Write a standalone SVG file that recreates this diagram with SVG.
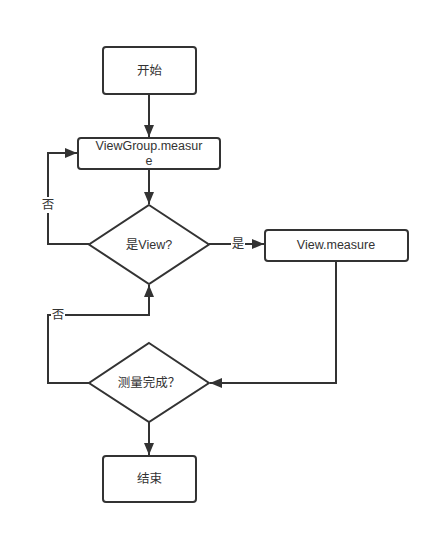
<svg xmlns="http://www.w3.org/2000/svg" width="439" height="534" viewBox="0 0 439 534">
<defs>
<marker id="arr" viewBox="0 0 12 10" refX="12" refY="5" markerWidth="12" markerHeight="10" markerUnits="userSpaceOnUse" orient="auto">
<path d="M0,0 L12,5 L0,10 Z" fill="#333"/>
</marker>
<style>
.n{fill:#fff;stroke:#333;stroke-width:2}
.e{fill:none;stroke:#333;stroke-width:2}
.t{font-family:"Liberation Sans","Noto Sans CJK SC",sans-serif;font-size:12.5px;fill:#333;text-anchor:middle;dominant-baseline:central}
.lb{fill:#fff}
</style>
</defs>
<rect width="439" height="534" fill="#fff"/>
<g id="connectors">
<path class="e" d="M149,94 L149,137" marker-end="url(#arr)"/>
<path class="e" d="M149,169 L149,204" marker-end="url(#arr)"/>
<path class="e" d="M89,244 L48,244 L48,153 L77,153" marker-end="url(#arr)"/>
<path class="e" d="M209,244 L264,244" marker-end="url(#arr)"/>
<path class="e" d="M336,261 L336,383 L210,383" marker-end="url(#arr)"/>
<path class="e" d="M89,383 L48,383 L48,315 L149,315 L149,285" marker-end="url(#arr)"/>
<path class="e" d="M149,422 L149,455" marker-end="url(#arr)"/>
<rect class="lb" x="41" y="197" width="14" height="16"/>
<text class="t" x="48" y="205">否</text>
<rect class="lb" x="231" y="236" width="14" height="16"/>
<text class="t" x="238" y="244">是</text>
<rect class="lb" x="51" y="307" width="14" height="16"/>
<text class="t" x="58" y="315">否</text>
</g>
<g id="start">
<rect class="n" x="103" y="47" width="93" height="47" rx="3"/>
<text class="t" x="149.5" y="71">开始</text>
</g>
<g id="viewgroup">
<rect class="n" x="78" y="138" width="142" height="31" rx="3"/>
<text class="t" x="149" y="146">ViewGroup.measur</text>
<text class="t" x="149" y="161">e</text>
</g>
<g id="isview">
<path class="n" d="M149,205 L209,244.5 L149,284 L89,244.5 Z"/>
<text class="t" x="149" y="245">是View?</text>
</g>
<g id="viewmeasure">
<rect class="n" x="265" y="230" width="143" height="31" rx="3"/>
<text class="t" x="336" y="245">View.measure</text>
</g>
<g id="done">
<path class="n" d="M149,343 L209,383 L149,422 L89,383 Z"/>
<text class="t" x="149" y="383">测量完成？</text>
</g>
<g id="end">
<rect class="n" x="103" y="456" width="93" height="46" rx="3"/>
<text class="t" x="149.5" y="479">结束</text>
</g>
</svg>
